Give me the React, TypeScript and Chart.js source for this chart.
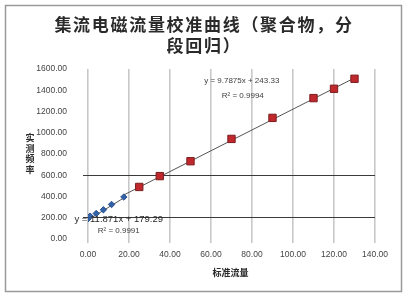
import React, { useEffect, useRef } from "react";
import { Chart, registerables } from "chart.js";

Chart.register(...registerables);

const titleLines = ["集流电磁流量校准曲线（聚合物，分", "段回归）"];
const xTitle = "标准流量";
const yTitleChars = ["实", "测", "频", "率"];

const blueX = [0, 1, 4, 7.5, 11.5, 17.5];
const blueY = [190, 215, 240, 275, 325, 395];
const redX = [25, 35, 50, 70, 90, 110, 120, 130];
const redY = [490, 592, 732, 942, 1140, 1326, 1414, 1508];

const blueSlope = 11.871;
const blueIntercept = 179.29;
const redSlope = 9.7875;
const redIntercept = 243.33;
const blueEq = "y = 11.871x + 179.29";
const blueR2 = "R² = 0.9991";
const redEq = "y = 9.7875x + 243.33";
const redR2 = "R² = 0.9994";

const xMin = 0, xMax = 140, xStep = 20;
const yMin = 0, yMax = 1600, yStep = 200;
const yLinesShown = [200, 600];

const CJK = '"Noto Sans CJK SC", "Noto Sans", sans-serif';
const LAT = '"Liberation Sans", Arial, sans-serif';

export default function App() {
  const ref = useRef<HTMLCanvasElement | null>(null);

  useEffect(() => {
    if (!ref.current) return;
    const blueTrendX = [Math.min(...blueX), Math.max(...blueX)];
    const redTrendX = [Math.max(...blueX), Math.max(...redX)];

    const decor = {
      id: "decor",
      beforeDraw(chart: any) {
        const ctx = chart.ctx;
        ctx.save();
        ctx.fillStyle = "#ffffff";
        ctx.fillRect(0, 0, chart.width, chart.height);
        ctx.strokeStyle = "#9a9a9a";
        ctx.lineWidth = 1.5;
        ctx.strokeRect(5.5, 5.5, 396, 286);
        ctx.restore();
      },
      afterDatasetsDraw(chart: any) {
        const ctx = chart.ctx;
        const xs = chart.scales.x;
        const ys = chart.scales.y;
        ctx.save();
        ctx.textAlign = "center";
        ctx.textBaseline = "middle";
        ctx.fillStyle = "#2a2a2a";
        ctx.font = `bold 17px ${CJK}`;
        try { (ctx as any).letterSpacing = "1.7px"; } catch (e) {}
        ctx.fillText(titleLines[0], 204, 25);
        ctx.fillText(titleLines[1], 204, 46);
        try { (ctx as any).letterSpacing = "0px"; } catch (e) {}

        ctx.font = `bold 9px ${CJK}`;
        yTitleChars.forEach((c, i) => ctx.fillText(c, 30, 138 + i * 10.5));
        ctx.fillText(xTitle, (xs.left + xs.right) / 2 - 1, 273);

        ctx.fillStyle = "#404040";
        ctx.font = `8px ${LAT}`;
        ctx.fillText(redEq, xs.getPixelForValue(75), ys.getPixelForValue(1485));
        ctx.fillText(redR2, xs.getPixelForValue(75.5), ys.getPixelForValue(1345));

        ctx.fillStyle = "#2a2a2a";
        ctx.font = `9.5px ${LAT}`;
        ctx.fillText(blueEq, xs.getPixelForValue(15), ys.getPixelForValue(185));
        ctx.fillStyle = "#404040";
        ctx.font = `8px ${LAT}`;
        ctx.fillText(blueR2, xs.getPixelForValue(15), ys.getPixelForValue(80));
        ctx.restore();
      },
    };

    const chart = new Chart(ref.current, {
      type: "scatter",
      data: {
        datasets: [
          {
            label: "trendBlue",
            data: blueTrendX.map((x) => ({ x, y: blueSlope * x + blueIntercept })),
            showLine: true,
            borderColor: "#555555",
            borderWidth: 1,
            pointRadius: 0,
            order: 3,
          },
          {
            label: "trendRed",
            data: redTrendX.map((x) => ({ x, y: redSlope * x + redIntercept })),
            showLine: true,
            borderColor: "#555555",
            borderWidth: 1,
            pointRadius: 0,
            order: 3,
          },
          {
            label: "blue",
            data: blueX.map((x, i) => ({ x, y: blueY[i] })),
            pointStyle: "rectRot",
            pointRadius: 3.2,
            backgroundColor: "#3462a8",
            borderColor: "#2a4f8f",
            borderWidth: 1,
            order: 1,
          },
          {
            label: "red",
            data: redX.map((x, i) => ({ x, y: redY[i] })),
            pointStyle: "rect",
            pointRadius: 5.2,
            backgroundColor: "#c0282d",
            borderColor: "#7a1c1e",
            borderWidth: 1,
            order: 1,
          },
        ],
      },
      options: {
        responsive: false,
        animation: false,
        devicePixelRatio: 1,
        layout: { padding: { left: 28, top: 69, right: 34, bottom: 38 } },
        plugins: {
          legend: { display: false },
          tooltip: { enabled: false },
          title: { display: false },
        },
        scales: {
          x: {
            type: "linear",
            min: xMin,
            max: xMax,
            afterFit: (s: any) => {
              s.height = 20;
            },
            ticks: {
              stepSize: xStep,
              padding: 7,
              color: "#444444",
              font: { family: LAT, size: 8.5 },
              callback: (v: any) => Number(v).toFixed(2),
            },
            grid: {
              color: "#c8c8c8",
              lineWidth: 1.6,
              drawTicks: true,
              tickLength: 4,
            },
            border: { display: false },
          },
          y: {
            type: "linear",
            min: yMin,
            max: yMax,
            afterFit: (s: any) => {
              s.width = 60;
            },
            ticks: {
              stepSize: yStep,
              padding: 16,
              color: "#444444",
              font: { family: LAT, size: 8.5 },
              callback: (v: any) => Number(v).toFixed(2),
            },
            grid: {
              color: (c: any) =>
                c.tick && yLinesShown.includes(c.tick.value) ? "#3a3a3a" : "rgba(0,0,0,0)",
              lineWidth: 1,
              drawTicks: true,
              tickLength: 5,
            },
            border: { display: false },
          },
        },
      },
      plugins: [decor],
    });
    return () => chart.destroy();
  }, []);

  return (
    <div style={{ position: "absolute", left: 0, top: 0, width: 409, height: 297 }}>
      <canvas ref={ref} width={409} height={297} style={{ display: "block" }} />
    </div>
  );
}
